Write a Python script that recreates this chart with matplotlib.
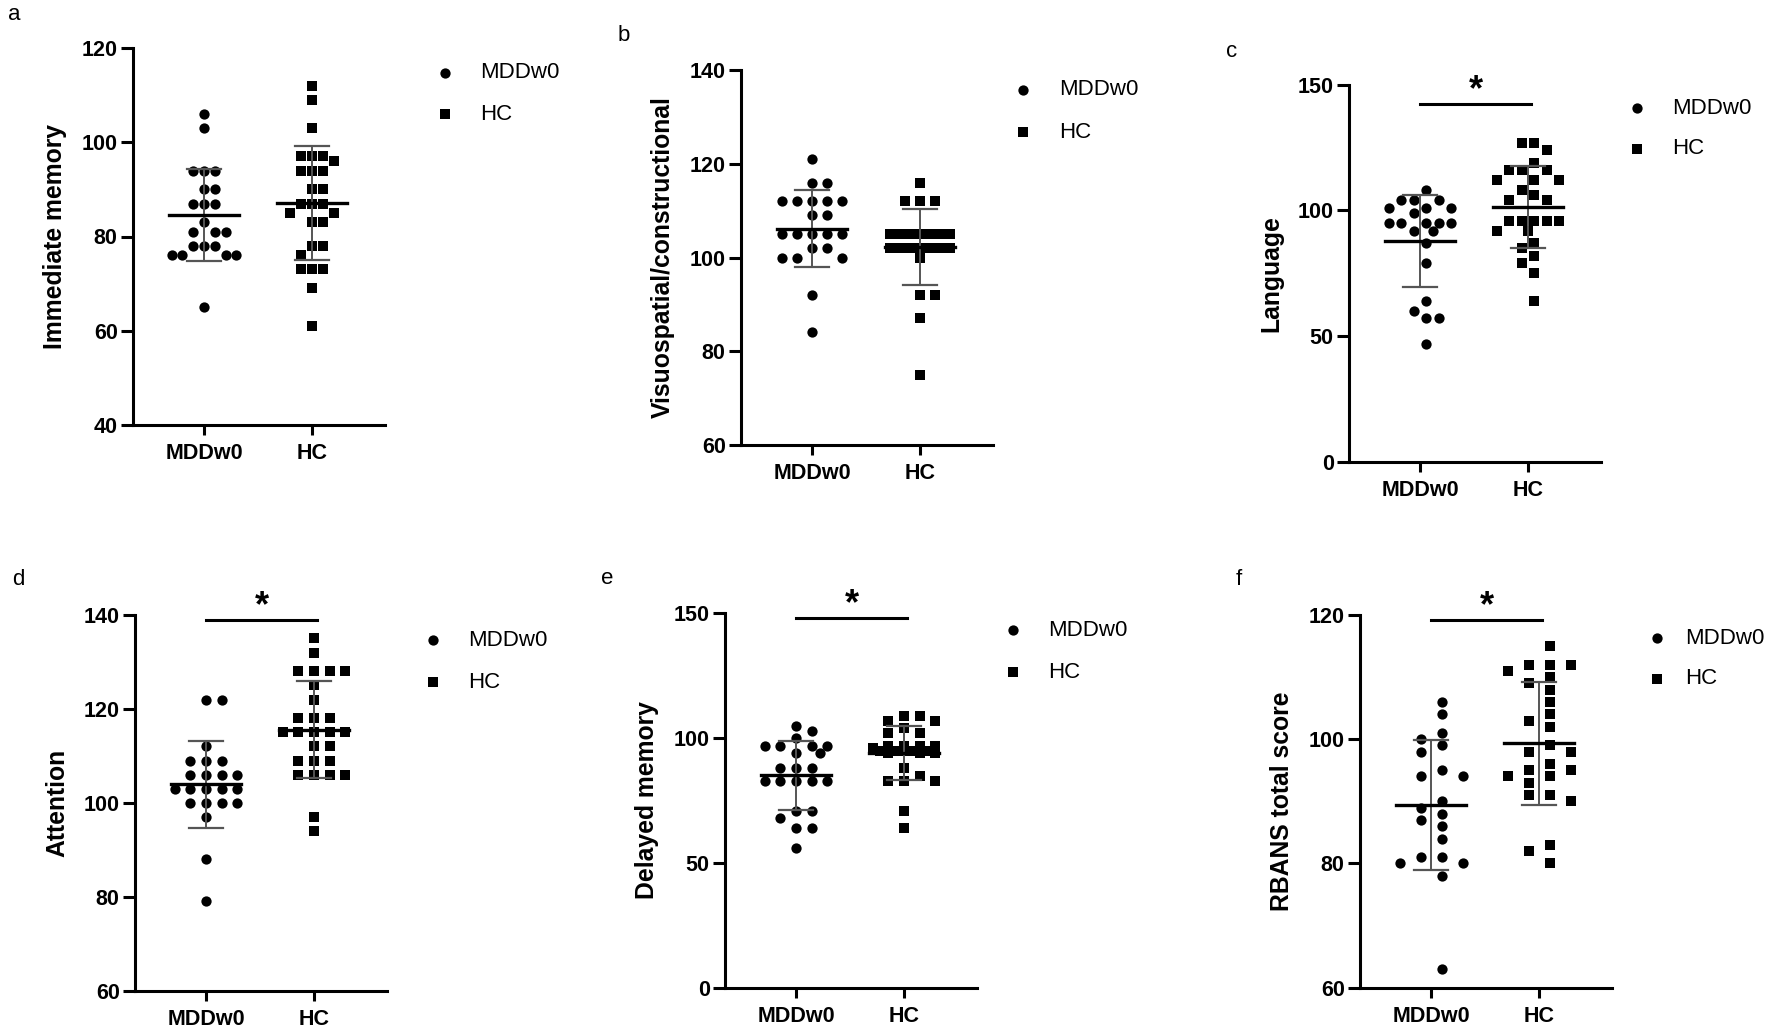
import matplotlib
matplotlib.use('Agg')
import matplotlib.pyplot as plt
from matplotlib.lines import Line2D
import numpy as np

plt.rcParams['font.family'] = ['Liberation Sans', 'DejaVu Sans']

# ---------------- data ----------------
groups = ['MDDw0', 'HC']

a_mdd = [106, 103, 94, 94, 94, 90, 90, 87, 87, 87, 83, 81, 81, 81, 78, 78, 78, 76, 76, 76, 76, 65]
a_hc = [112, 109, 103, 97, 97, 97, 96, 94, 94, 94, 90, 90, 87, 87, 87, 85, 85, 83, 83,
        78, 78, 76, 73, 73, 73, 69, 61]

b_mdd = [121, 116, 116, 112, 112, 112, 112, 112, 109, 109, 105, 105, 105, 105, 105,
         102, 102, 100, 100, 100, 92, 84]
b_hc = [116, 112, 112, 112, 105, 105, 105, 105, 105, 105, 105, 105, 105,
        102, 102, 102, 102, 102, 102, 102, 102, 102, 100, 92, 92, 87, 75]

c_mdd = [108, 104, 104, 104, 101, 101, 101, 99, 95, 95, 95, 95, 95, 92, 92, 87, 79, 64, 60, 57, 57, 47]
c_hc = [127, 127, 124, 119, 116, 116, 116, 112, 112, 112, 108, 106, 104, 104, 96, 96, 96, 96, 96,
        92, 92, 87, 85, 82, 79, 75, 64]

d_mdd = [122, 122, 112, 109, 109, 109, 106, 106, 106, 106, 103, 103, 103, 103, 103,
         100, 100, 100, 100, 97, 88, 79]
d_hc = [135, 132, 128, 128, 128, 128, 125, 122, 118, 118, 118, 115, 115, 115, 115, 115,
        112, 112, 109, 109, 109, 106, 106, 106, 106, 97, 94]

e_mdd = [105, 103, 100, 97, 97, 97, 97, 94, 94, 88, 88, 88, 83, 83, 83, 83, 83, 71, 71, 68, 64, 64, 56]
e_hc = [109, 109, 107, 107, 104, 102, 102, 97, 97, 97, 97, 96, 95, 95, 95, 95, 95, 94, 94, 94,
        88, 85, 83, 83, 83, 71, 64]

f_mdd = [106, 104, 101, 100, 99, 98, 95, 94, 94, 90, 89, 88, 87, 86, 84, 81, 81, 80, 80, 78, 63]
f_hc = [115, 112, 112, 112, 111, 110, 109, 108, 106, 104, 103, 102, 99, 98, 98, 96, 95, 95,
        94, 94, 93, 91, 91, 90, 83, 82, 80]

ylabels = ['Immediate memory', 'Visuospatial/constructional', 'Language',
           'Attention', 'Delayed memory', 'RBANS total score']
letters = ['a', 'b', 'c', 'd', 'e', 'f']
ylims = [(40, 120), (60, 140), (0, 150), (60, 140), (0, 150), (60, 120)]
yticks = [[40, 60, 80, 100, 120], [60, 80, 100, 120, 140], [0, 50, 100, 150],
          [60, 80, 100, 120, 140], [0, 50, 100, 150], [60, 80, 100, 120]]
significant = [False, False, True, True, True, True]
series = [(a_mdd, a_hc), (b_mdd, b_hc), (c_mdd, c_hc), (d_mdd, d_hc), (e_mdd, e_hc), (f_mdd, f_hc)]

# ---------------- layout (pixels) ----------------
W, H = 1772, 1035
# x of y-axis, y of top tick, y of bottom axis
boxes = [(133, 48, 425), (741, 70, 445), (1349, 85, 461.5),
         (135, 615, 990.6), (725, 613, 988), (1360, 615, 987.6)]
AXW = 252
PXU = 108.0       # px per category unit
CAT0 = 71.0       # px from y-axis to first category
swarm_par = [(10.8, 3, False), (15.0, 2, False), (12.5, 2, True),
             (15.7, 2, False), (15.7, 2, False), (21.0, 1, True)]
sig_px = [None, None, 104, 620, 618, 620]
legend_px = [(445, 73, 114, 480), (1023, 90, 132, 1059), (1637, 108, 149, 1672),
             (433, 640, 682, 468), (1013, 630, 672, 1048), (1657, 638, 679, 1685)]
letter_px = [(8, 20), (618, 41), (1226, 57), (12, 585), (601, 584), (1236, 585)]

MS_C, MS_S = 7.4, 6.8

fig = plt.figure(figsize=(W / 100, H / 100), dpi=100)


def swarm(vals, s, K, half, dmin, pyu):
    vals = np.asarray(vals, float)
    order = np.argsort(-vals, kind='stable')
    lim = (K + 0.5) * s if half else K * s
    ints = [0.0]
    for k in range(1, 20):
        if k * s <= lim + 1e-6:
            ints += [k * s, -k * s]
    halves = []
    for k in range(0, 20):
        if (k + 0.5) * s <= lim + 1e-6:
            halves += [(k + 0.5) * s, -(k + 0.5) * s]
    prim, sec = (halves, ints) if half else (ints, halves)
    placed = []
    offs = np.zeros(len(vals))
    for i in order:
        y = vals[i] * pyu
        choice = None
        for cand_list in (prim, sec):
            for c in cand_list:
                if all(np.hypot(c - px, y - py) >= dmin for px, py in placed):
                    choice = c
                    break
            if choice is not None:
                break
        if choice is None:
            best, bd = 0.0, -1
            for c in prim + sec:
                d = min(np.hypot(c - px, y - py) for px, py in placed)
                if d > bd + 1e-9:
                    best, bd = c, d
            choice = best
        placed.append((choice, y))
        offs[i] = choice
    return offs / PXU


for p in range(6):
    x0, ytop, ybot = boxes[p]
    ax = fig.add_axes([x0 / W, 1 - ybot / H, AXW / W, (ybot - ytop) / H])
    ax.set_xlim(-CAT0 / PXU, (AXW - CAT0) / PXU)
    ylo, yhi = ylims[p]
    ax.set_ylim(ylo, yhi)
    pyu = (ybot - ytop) / (yhi - ylo)
    for sp in ['top', 'right']:
        ax.spines[sp].set_visible(False)
    for sp in ['left', 'bottom']:
        ax.spines[sp].set_linewidth(2.2)
        ax.spines[sp].set_capstyle('projecting')
    ax.set_yticks(yticks[p])
    ax.set_xticks([0, 1])
    ax.set_xticklabels(groups)
    ax.tick_params(axis='y', width=2.2, length=9, labelsize=15.5, pad=2)
    ax.tick_params(axis='x', width=2.2, length=7, labelsize=15.5, pad=6)
    for lab in ax.get_yticklabels() + ax.get_xticklabels():
        lab.set_fontweight('bold')
    ax.text(-78 / AXW, 0.5, ylabels[p], rotation=90, ha='center', va='center',
            transform=ax.transAxes, fontsize=17.8, fontweight='bold')

    s, K, half = swarm_par[p]
    for gi, (vals, mk, ms) in enumerate([(series[p][0], 'o', MS_C), (series[p][1], 's', MS_S)]):
        offs = swarm(vals, s, K, half, 10.5, pyu)
        ax.plot(gi + offs, vals, linestyle='none', marker=mk, ms=ms, color='black',
                markeredgewidth=0, zorder=3, clip_on=False)
        v = np.asarray(vals, float)
        m, sd = v.mean(), v.std(ddof=1)
        ax.plot([gi, gi], [m - sd, m + sd], color='#555555', lw=1.4, zorder=4)
        for yy in (m - sd, m + sd):
            ax.plot([gi - 0.157, gi + 0.157], [yy, yy], color='#555555', lw=1.6, zorder=4)
        ax.plot([gi - 0.324, gi + 0.324], [m, m], color='black', lw=2.4, zorder=5)

    if significant[p]:
        ys = yhi - (sig_px[p] - ytop) / pyu
        ax.plot([0.0, 1.03], [ys, ys], color='black', lw=2.2, clip_on=False)
        ax.annotate('*', xy=(0.515, ys), xytext=(0, 2.5), textcoords='offset points',
                    ha='center', va='baseline', fontsize=26, fontweight='bold')

    mx, y1, y2, tx = legend_px[p]
    fig.add_artist(Line2D([mx / W], [1 - y1 / H], marker='o', ms=MS_C, color='black',
                          markeredgewidth=0, transform=fig.transFigure))
    fig.add_artist(Line2D([mx / W], [1 - y2 / H], marker='s', ms=MS_S, color='black',
                          markeredgewidth=0, transform=fig.transFigure))
    fig.text(tx / W, 1 - y1 / H, groups[0], ha='left', va='center', fontsize=16)
    fig.text(tx / W, 1 - y2 / H, groups[1], ha='left', va='center', fontsize=16)

    lx, ly = letter_px[p]
    fig.text(lx / W, 1 - ly / H, letters[p], ha='left', va='baseline', fontsize=16)

fig.savefig('out.png', dpi=100, facecolor='white')
